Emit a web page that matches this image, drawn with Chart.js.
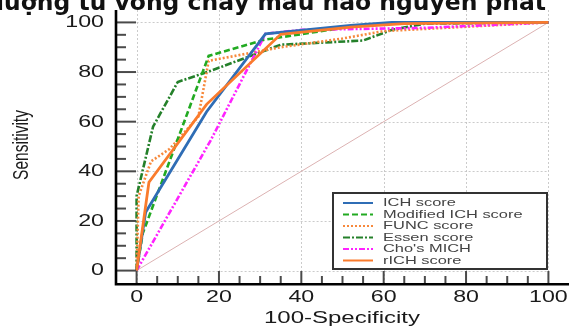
<!DOCTYPE html>
<html><head><meta charset="utf-8">
<script src="https://cdn.jsdelivr.net/npm/chart.js@4"></script>
<style>html,body{margin:0;padding:0;background:#fff;overflow:hidden}canvas{display:block}</style>
</head><body>
<canvas id="c" width="570" height="327"></canvas>
<script>
const titleText = "lượng tử vong chảy máu não nguyên phát";
const xTitle = "100-Specificity";
const yTitle = "Sensitivity";
const xTickVals = [0, 20, 40, 60, 80, 100];
const xTickLabels = ["0", "20", "40", "60", "80", "100"];
const yTickVals = [0, 20, 40, 60, 80, 100];
const yTickLabels = ["0", "20", "40", "60", "80", "100"];
const seriesNames = ["ICH score", "Modified ICH score", "FUNC score", "Essen score", "Cho's MICH", "rICH score"];

const ichX = [0, 2.2, 17, 31.3, 52, 62, 100];
const ichY = [0, 23.5, 64, 95.4, 98.8, 100, 100];
const modX = [0, 1.5, 17.5, 31, 52, 65, 100];
const modY = [0, 15, 86.5, 93, 98.3, 99.8, 100];
const funcX = [0, 0.5, 3.5, 8, 15, 17.5, 35, 50, 60, 100];
const funcY = [0, 30, 44, 49, 62, 84.5, 90, 93.5, 96.5, 100];
const essenX = [0, 0, 4, 10, 18, 35, 55, 62, 70, 100];
const essenY = [0, 30, 58, 76, 80.5, 91, 92.7, 97, 99.5, 100];
const choX = [0, 18, 31.3, 40, 70, 100];
const choY = [0, 52.5, 95.4, 97, 97.8, 100];
const richX = [0, 3, 17, 35, 52, 65, 100];
const richY = [0, 35.6, 67, 95.2, 98.1, 99.5, 100];
const refX = [0, 100];
const refY = [0, 100];

const colors = ["#2f6db5", "#22aa22", "#f7893c", "#24802a", "#ff22ff", "#fa7b2c"];
const dashes = [[], [6, 3], [2, 2], [7, 2, 2, 2], [6, 2, 2, 2, 2, 2], []];

function pts(xs, ys) { return xs.map((x, i) => ({x: x, y: ys[i]})); }
const seriesData = [pts(ichX, ichY), pts(modX, modY), pts(funcX, funcY), pts(essenX, essenY), pts(choX, choY), pts(richX, richY)];
const orders = [1, 3, 4, 5, 2, 0];

const datasets = seriesData.map((d, i) => ({
  label: seriesNames[i], data: d, showLine: true, borderColor: colors[i],
  borderWidth: (i === 0 || i === 5) ? 2.8 : 2.6, borderDash: dashes[i], pointRadius: 0,
  tension: 0, order: orders[i], fill: false
}));
datasets.push({label: "ref", data: pts(refX, refY), showLine: true, borderColor: "#dcb2b2", borderWidth: 1, pointRadius: 0, order: 10});

const SX = 1.45;
function stretchText(ctx, txt, x, y, sx, align, base) {
  ctx.save(); ctx.translate(x, y); ctx.scale(sx, 1);
  ctx.textAlign = align; ctx.textBaseline = base; ctx.fillText(txt, 0, 0); ctx.restore();
}

const decor = {
  id: 'decor',
  beforeDatasetsDraw(chart) {
    const ctx = chart.ctx, xs = chart.scales.x, ys = chart.scales.y, a = chart.chartArea;
    ctx.save();
    ctx.strokeStyle = "rgba(190,190,190,0.8)"; ctx.lineWidth = 1; ctx.setLineDash([2, 2]);
    yTickVals.forEach(v => { const p = Math.round(ys.getPixelForValue(v)) + 0.5;
      ctx.beginPath(); ctx.moveTo(xs.getPixelForValue(0), p); ctx.lineTo(xs.getPixelForValue(100), p); ctx.stroke(); });
    xTickVals.forEach(v => { const p = Math.round(xs.getPixelForValue(v)) + 0.5;
      ctx.beginPath(); ctx.moveTo(p, a.top); ctx.lineTo(p, a.bottom); ctx.stroke(); });
    ctx.restore();
  },
  afterDatasetsDraw(chart) {
    const ctx = chart.ctx, xs = chart.scales.x, ys = chart.scales.y, a = chart.chartArea;
    ctx.save();
    ctx.strokeStyle = "#4a4a4a"; ctx.lineWidth = 2; ctx.setLineDash([]);
    for (let v = 0; v <= 100; v += 5) {
      const major = v % 20 === 0;
      const py = ys.getPixelForValue(v);
      ctx.beginPath(); ctx.moveTo(a.left, py); ctx.lineTo(a.left + (major ? 20 : 10), py); ctx.stroke();
      const px = xs.getPixelForValue(v);
      ctx.beginPath(); ctx.moveTo(px, a.bottom); ctx.lineTo(px, a.bottom - (major ? 12 : 7)); ctx.stroke();
    }
    ctx.strokeStyle = "#000"; ctx.lineWidth = 2.6;
    ctx.beginPath(); ctx.moveTo(a.left, a.top); ctx.lineTo(a.left, a.bottom + 1.3); ctx.lineTo(a.right, a.bottom + 1.3); ctx.stroke();
    ctx.fillStyle = "#1a1a1a"; ctx.font = '16px "Liberation Sans", Arial, sans-serif';
    yTickVals.forEach((v, i) => stretchText(ctx, yTickLabels[i], 104, ys.getPixelForValue(v) + 0.5, SX, 'right', 'middle'));
    xTickVals.forEach((v, i) => stretchText(ctx, xTickLabels[i], xs.getPixelForValue(v), 302, SX, 'center', 'alphabetic'));
    stretchText(ctx, xTitle, 342, 323, 1.5, 'center', 'alphabetic');
    ctx.save(); ctx.translate(22, 145); ctx.rotate(-Math.PI / 2); ctx.scale(1, 1.45);
    ctx.font = '15.5px "Liberation Sans", Arial, sans-serif'; ctx.textAlign = 'center'; ctx.textBaseline = 'middle';
    ctx.fillText(yTitle, 0, 0); ctx.restore();
    ctx.fillStyle = "#fff"; ctx.fillRect(333, 193, 214, 76);
    ctx.strokeStyle = "#333"; ctx.lineWidth = 2; ctx.strokeRect(333, 193, 214, 76);
    ctx.font = '10.8px "Liberation Sans", Arial, sans-serif';
    seriesNames.forEach((n, i) => {
      const y = 203 + i * 11.5;
      ctx.strokeStyle = colors[i]; ctx.lineWidth = 2; ctx.setLineDash(dashes[i]);
      ctx.beginPath(); ctx.moveTo(343, y); ctx.lineTo(373, y); ctx.stroke();
      ctx.setLineDash([]); ctx.fillStyle = "#444";
      stretchText(ctx, n, 383, y + 0.5, 1.52, 'left', 'middle');
    });
    ctx.fillStyle = "#111"; ctx.font = 'bold 23px "DejaVu Sans", sans-serif';
    const w = ctx.measureText(titleText).width;
    stretchText(ctx, titleText, -4, 9.5, 550 / w, 'left', 'alphabetic');
    ctx.restore();
  }
};

new Chart(document.getElementById('c'), {
  type: 'scatter',
  data: {datasets: datasets},
  options: {
    responsive: false, animation: false, devicePixelRatio: 1,
    layout: {padding: {top: 10, right: 1, left: 0, bottom: 0}},
    plugins: {legend: {display: false}, tooltip: {enabled: false}, title: {display: false}},
    scales: {
      x: {type: 'linear', min: -5, max: 105, ticks: {display: false}, grid: {display: false}, border: {display: false},
          afterFit: s => { s.height = 44; }},
      y: {type: 'linear', min: -5, max: 105, ticks: {display: false}, grid: {display: false}, border: {display: false},
          afterFit: s => { s.width = 116; }}
    }
  },
  plugins: [decor]
});
</script>
</body></html>
